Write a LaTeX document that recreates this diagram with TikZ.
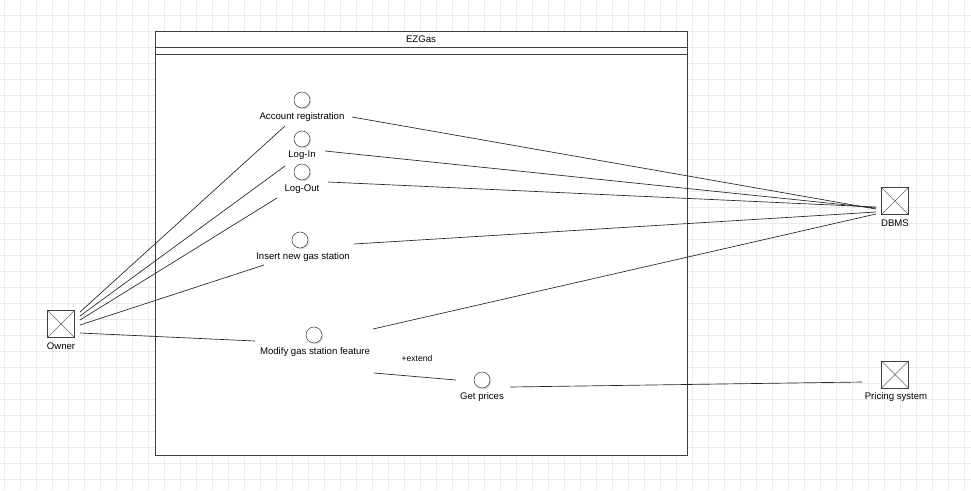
\documentclass[tikz,border=0pt]{standalone}
\usepackage{fontspec}
\setmainfont{Liberation Sans}
\usetikzlibrary{shadows}
\tikzset{
  usecase/.style={circle, draw=black!75, fill=white, minimum size=12pt, inner sep=0pt,
    drop shadow={shadow xshift=1pt, shadow yshift=-1pt, fill=black!20, opacity=0.6}},
  actorbox/.style={rectangle, draw=black!75, fill=white, minimum size=20.5pt, inner sep=0pt,
    path picture={\draw[black!60] (path picture bounding box.north west) -- (path picture bounding box.south east)
      (path picture bounding box.south west) -- (path picture bounding box.north east);}},
  assoc/.style={black!85, line width=0.5pt}
}
\begin{document}
\begin{tikzpicture}[x=0.75pt, y=-0.75pt, every node/.style={font=\fontsize{7.2}{8}\selectfont, inner sep=1pt}]
        \useasboundingbox (0,0) rectangle (971,490);
        % background grid
        \foreach \x in {4,20,...,964} \draw[black!8, line width=0.6pt] (\x,0) -- (\x,490);
        \foreach \y in {15,31,...,479} \draw[black!8, line width=0.6pt] (0,\y) -- (971,\y);
        % system boundary
        \draw[black!75, fill=white, line width=0.6pt] (155,31) rectangle (687,455);
        \draw[black!75, line width=0.6pt] (155,47) -- (687,47);
        \draw[black!75, line width=0.6pt] (155,54) -- (687,54);
        \node (sys) at (421,39) {EZGas};
        % use cases
        \node[usecase] (reg) at (302,100) {};
        \node (regl) at (302,117) {Account registration};
        \node[usecase] (login) at (302,139) {};
        \node (loginl) at (302,155.5) {Log-In};
        \node[usecase] (logout) at (302,172) {};
        \node (logoutl) at (302,189) {Log-Out};
        \node[usecase] (ins) at (300,240) {};
        \node (insl) at (303,257) {Insert new gas station};
        \node[usecase] (mod) at (314,335) {};
        \node (modl) at (315,352) {Modify gas station feature};
        \node[usecase] (price) at (482,380) {};
        \node (pricel) at (482,397) {Get prices};
        % actors
        \node[actorbox] (owner) at (61,324) {};
        \node (ownerl) at (61,346) {Owner};
        \node[actorbox] (dbms) at (895,201) {};
        \node (dbmsl) at (895,223) {DBMS};
        \node[actorbox] (pricing) at (895,374.5) {};
        \node (pricingl) at (896,397) {Pricing system};
        % connector end points
        \coordinate (o1) at (80,312);
        \coordinate (o2) at (80,316);
        \coordinate (o3) at (80,320);
        \coordinate (o4) at (80,325);
        \coordinate (o5) at (80,333);
        \coordinate (d1) at (876,209);
        \coordinate (d2) at (876,208);
        \coordinate (d3) at (876,207);
        \coordinate (d4) at (876,212);
        \coordinate (d5) at (876,214);
        \coordinate (p1) at (862,382);
        \coordinate (regin) at (285,126);
        \coordinate (loginin) at (285,166);
        \coordinate (logoutin) at (277,198);
        \coordinate (insin) at (264,265);
        \coordinate (modin) at (255,341);
        \coordinate (regout) at (352,117);
        \coordinate (loginout) at (325,151);
        \coordinate (logoutout) at (328,182);
        \coordinate (insout) at (354,244);
        \coordinate (modout) at (373,329);
        \coordinate (extfrom) at (374,373);
        \coordinate (extto) at (456,380);
        \coordinate (priceout) at (510,387);
        % associations
        \draw[assoc] (o1) -- (regin);
        \draw[assoc] (o2) -- (loginin);
        \draw[assoc] (o3) -- (logoutin);
        \draw[assoc] (o4) -- (insin);
        \draw[assoc] (o5) -- (modin);
        \draw[assoc] (regout) -- (d1);
        \draw[assoc] (loginout) -- (d2);
        \draw[assoc] (logoutout) -- (d3);
        \draw[assoc] (insout) -- (d4);
        \draw[assoc] (modout) -- (d5);
        \draw[assoc] (extfrom) -- (extto);
        \node[font=\fontsize{6.4}{7}\selectfont] (ext) at (417,358) {+extend};
        \draw[assoc] (priceout) -- (p1);
\end{tikzpicture}
\end{document}
